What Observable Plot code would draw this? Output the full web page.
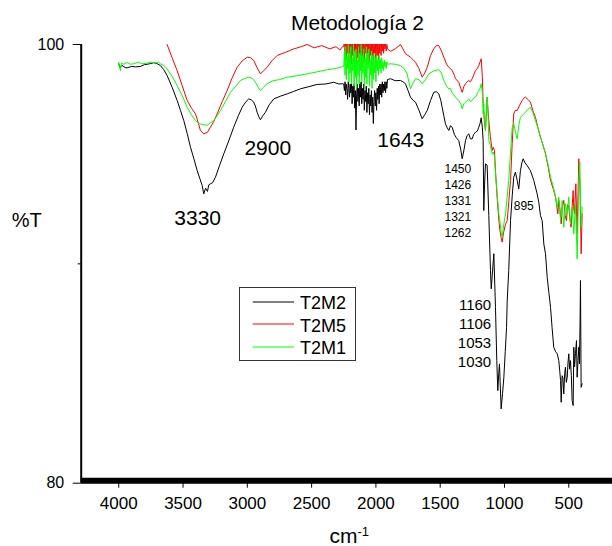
<!DOCTYPE html>
<html><head><meta charset="utf-8">
<script src="https://cdn.jsdelivr.net/npm/d3@7"></script>
<script src="https://cdn.jsdelivr.net/npm/@observablehq/plot@0.6"></script>
<style>
body{margin:0;background:#fff;}
#chart{position:relative;width:612px;height:546px;}
</style></head><body><div id="chart"></div>
<script>
const FONT = "'Liberation Sans', Arial, Helvetica, sans-serif";

const seriesNames = ["T2M2", "T2M5", "T2M1"];
const seriesColors = ["#000000", "#ff0000", "#00ff00"];

// T2M2 (black): [wavenumber cm-1, %T]
const t2m2 = [
[4000,99.12],[3990,98.95],[3975,99.05],[3950,98.95],[3935,98.94],[3900,99.0],[3870,98.98],[3831,99.0],[3800,99.08],[3760,99.12],[3728,99.17],[3700,99.12],[3676,99.04],[3650,98.85],[3624,98.59],[3585,98.05],[3546,97.45],[3520,97.0],[3494,96.53],[3468,95.95],[3442,95.32],[3416,94.8],[3390,94.25],[3370,93.9],[3351,93.57],[3339,93.19],[3325,93.45],[3310,93.3],[3300,93.6],[3287,93.65],[3270,93.7],[3248,93.95],[3215,94.5],[3183,95.02],[3145,95.6],[3106,96.23],[3070,96.75],[3040,97.14],[3010,97.4],[2989,97.52],[2970,97.48],[2950,97.37],[2935,97.15],[2924,96.91],[2910,96.7],[2898,96.57],[2880,96.75],[2859,96.91],[2830,97.25],[2794,97.52],[2740,97.65],[2690,97.75],[2640,97.86],[2587,97.98],[2520,98.08],[2457,98.18],[2390,98.2],[2328,98.28],[2290,98.2],[2262,98.21],
[2250,98.2],[2245,97.9],[2240,98.3],[2235,97.7],[2230,98.2],[2225,98.0],[2220,97.5],[2215,98.3],[2210,98.0],[2205,97.6],[2200,98.2],[2195,97.8],[2190,98.3],[2185,97.3],[2180,98.1],[2175,97.6],[2170,98.2],[2165,97.1],[2160,97.9],[2155,96.1],[2150,97.7],[2145,98.2],[2140,97.4],[2135,98.0],[2130,97.2],[2125,98.2],[2120,97.6],[2115,98.3],[2110,97.3],[2105,98.0],[2100,97.5],[2095,98.2],[2090,97.0],[2085,97.9],[2080,97.4],[2075,98.1],[2070,96.9],[2065,97.8],[2060,97.3],[2055,98.0],[2050,96.8],[2045,97.7],[2040,97.2],[2035,97.9],[2030,96.9],[2025,97.6],[2020,96.4],[2015,97.4],[2010,97.9],[2005,97.2],[2000,97.8],[1995,97.0],[1990,98.0],[1985,97.5],[1980,98.1],[1975,97.3],[1970,98.2],[1965,97.7],[1960,98.2],[1955,97.6],[1950,98.3],[1945,97.8],[1940,98.2],[1935,97.9],[1930,98.3],[1925,97.8],[1920,98.3],[1915,98.0],[1910,98.4],
[1887,98.44],[1850,98.35],[1809,98.36],[1790,98.3],[1770,98.21],[1750,97.9],[1731,97.6],[1710,97.45],[1692,97.37],[1665,97.0],[1640,96.61],[1620,96.8],[1601,96.99],[1575,97.45],[1550,97.82],[1530,97.85],[1511,97.75],[1495,97.45],[1485,97.14],[1470,96.7],[1459,96.38],[1445,96.2],[1433,96.08],[1420,96.3],[1407,96.23],[1390,95.9],[1375,95.75],[1356,95.62],[1340,95.2],[1329,94.79],[1315,95.2],[1303,95.62],[1290,95.85],[1278,95.93],[1265,95.7],[1251,95.7],[1240,95.9],[1226,96.0],[1212,96.05],[1200,96.23],[1190,96.4],[1181,96.66],[1172,96.2],[1166,95.62],[1161,92.43],[1155,93.6],[1148,94.56],[1135,94.5],[1122,92.2],[1109,89.7],[1103,88.86],[1090,89.9],[1083,90.46],[1070,88.0],[1060,85.6],[1052,84.22],[1045,85.0],[1039,85.44],[1032,84.3],[1026,83.39],[1015,84.1],[1005,84.83],[994,86.0],[984,87.11],[979,88.3],[967,89.7],[953,91.97],[940,93.1],[928,93.95],[915,94.18],[901,93.8],[889,93.42],[876,94.25],[865,94.6],[855,94.79],[840,94.6],[824,94.48],[798,94.25],[772,93.8],[746,93.19],[733,92.8],[720,92.2],[707,91.97],[694,90.9],[681,90.46],[668,89.39],[655,88.7],[642,88.02],[630,87.1],[617,86.2],[603,86.0],[590,85.9],[578,85.6],[570,85.1],[564,84.68],[559,83.69],[552,84.9],[546,84.83],[539,84.07],[532,85.0],[526,85.29],[519,84.6],[512,84.83],[506,85.5],[500,85.9],[494,85.2],[487,85.59],[480,84.9],[474,83.77],[466,83.54],[461,86.2],[455,85.3],[448,85.9],[440,86.5],[435,84.83],[428,85.6],[422,86.2],[417,85.44],[412,87.5],[409,89.24],[404,84.37],[396,84.53]
];

// T2M5 (red)
const t2m5 = [
[3690,100.6],[3660,100.3],[3624,100.0],[3585,99.4],[3546,98.81],[3505,98.1],[3468,97.45],[3435,97.1],[3403,96.84],[3380,96.4],[3365,96.08],[3339,95.93],[3310,96.0],[3287,96.23],[3260,96.5],[3235,96.84],[3195,97.4],[3157,97.9],[3120,98.45],[3079,98.96],[3040,99.25],[3001,99.42],[2975,99.4],[2950,99.27],[2925,98.95],[2898,98.66],[2875,98.8],[2846,98.96],[2810,99.25],[2768,99.5],[2700,99.65],[2639,99.8],[2580,99.9],[2535,100.0],[2480,99.85],[2420,99.95],[2360,99.8],[2310,99.9],[2280,99.75],[2260,99.9],
[2250,99.9],[2245,100.5],[2240,99.5],[2235,100.4],[2230,99.3],[2225,100.5],[2220,99.6],[2215,100.3],[2210,99.2],[2205,100.5],[2200,99.4],[2195,100.2],[2190,99.1],[2185,100.5],[2180,99.5],[2175,100.4],[2170,99.2],[2165,100.3],[2160,99.6],[2155,100.5],[2150,99.1],[2145,100.2],[2140,99.4],[2135,100.5],[2130,99.2],[2125,100.3],[2120,99.5],[2115,100.5],[2110,99.1],[2105,100.4],[2100,99.3],[2095,100.5],[2090,99.2],[2085,100.2],[2080,99.6],[2075,100.5],[2070,99.1],[2065,100.3],[2060,99.4],[2055,100.5],[2050,99.2],[2045,100.2],[2040,99.5],[2035,100.4],[2030,99.1],[2025,100.5],[2020,99.3],[2015,100.2],[2010,99.6],[2005,100.4],[2000,99.2],[1995,100.3],[1990,99.5],[1985,100.5],[1980,99.3],[1975,100.2],[1970,99.6],[1965,100.4],[1960,99.5],[1955,100.2],[1950,99.7],[1945,100.3],[1940,99.6],[1935,100.2],[1930,99.8],[1925,100.1],[1920,99.7],[1915,100.0],[1910,99.8],
[1887,99.69],[1850,99.8],[1809,100.0],[1790,99.8],[1770,99.58],[1750,99.5],[1731,99.42],[1710,99.3],[1692,99.19],[1665,98.9],[1640,98.51],[1620,98.7],[1601,98.96],[1575,99.5],[1550,99.8],[1530,99.95],[1511,99.95],[1490,99.7],[1472,99.42],[1450,99.1],[1433,98.96],[1420,98.9],[1407,98.81],[1390,98.6],[1381,98.44],[1356,98.28],[1340,98.0],[1329,97.82],[1315,98.1],[1303,98.21],[1290,98.3],[1278,98.36],[1265,98.3],[1251,98.44],[1240,98.6],[1226,98.81],[1212,98.9],[1200,99.04],[1190,99.2],[1181,99.35],[1172,98.5],[1166,97.3],[1160,96.8],[1155,96.4],[1148,96.08],[1141,96.9],[1135,97.6],[1128,97.0],[1122,96.53],[1110,95.8],[1096,95.17],[1088,95.32],[1078,95.17],[1070,94.25],[1057,93.0],[1044,92.0],[1035,91.5],[1026,91.2],[1018,90.99],[1008,91.4],[992,91.8],[979,91.97],[967,92.8],[953,93.8],[940,95.5],[928,96.84],[915,97.0],[901,96.99],[885,97.2],[862,97.45],[850,97.55],[837,97.6],[818,97.5],[798,97.37],[780,97.0],[759,96.68],[740,96.2],[720,95.77],[700,95.4],[681,95.02],[660,94.4],[642,93.8],[620,93.4],[603,93.04],[585,92.28],[578,92.9],[570,92.58],[559,91.82],[550,92.6],[539,92.89],[528,92.2],[518,91.97],[509,92.7],[500,92.58],[490,92.0],[482,91.67],[474,92.6],[466,93.34],[461,92.5],[456,92.28],[450,93.0],[445,93.65],[440,92.4],[435,91.37],[428,93.2],[422,94.79],[418,94.0],[414,93.8],[409,92.2],[404,90.46],[396,92.28]
];

// T2M1 (green)
const t2m1 = [
[4000,99.19],[3995,99.0],[3987,98.81],[3980,99.15],[3960,99.1],[3935,99.18],[3910,99.1],[3883,99.12],[3850,99.2],[3820,99.12],[3779,99.15],[3750,99.2],[3715,99.15],[3690,99.2],[3676,99.12],[3650,99.05],[3624,98.89],[3585,98.55],[3546,98.13],[3505,97.65],[3468,97.14],[3435,96.8],[3403,96.53],[3380,96.4],[3365,96.38],[3340,96.35],[3313,96.31],[3290,96.42],[3261,96.53],[3235,96.75],[3209,96.99],[3170,97.4],[3131,97.82],[3090,98.1],[3053,98.36],[3020,98.45],[2989,98.51],[2960,98.45],[2937,98.28],[2915,98.05],[2898,97.9],[2875,98.05],[2846,98.21],[2800,98.35],[2750,98.4],[2690,98.51],[2610,98.58],[2535,98.66],[2460,98.75],[2379,98.85],[2320,98.9],[2276,98.96],[2260,99.0],
[2250,99.0],[2245,99.7],[2240,98.6],[2235,99.9],[2230,98.4],[2225,99.5],[2220,98.9],[2215,100.0],[2210,98.3],[2205,99.6],[2200,98.7],[2195,99.9],[2190,98.2],[2185,99.4],[2180,98.8],[2175,100.0],[2170,98.1],[2165,99.7],[2160,98.5],[2155,99.8],[2150,98.0],[2145,99.3],[2140,98.6],[2135,99.9],[2130,98.2],[2125,99.6],[2120,98.8],[2115,100.0],[2110,98.3],[2105,99.5],[2100,98.7],[2095,99.8],[2090,98.0],[2085,99.4],[2080,98.5],[2075,99.9],[2070,98.2],[2065,99.6],[2060,98.9],[2055,99.8],[2050,98.1],[2045,99.3],[2040,98.6],[2035,99.7],[2030,98.0],[2025,99.5],[2020,98.4],[2015,99.6],[2010,98.7],[2005,99.4],[2000,98.3],[1995,99.5],[1990,98.8],[1985,99.3],[1980,98.6],[1975,99.5],[1970,98.9],[1965,99.3],[1960,98.7],[1955,99.4],[1950,98.9],[1945,99.2],[1940,98.8],[1935,99.3],[1930,99.0],[1925,99.2],[1920,98.9],[1915,99.2],[1910,99.1],
[1887,99.12],[1850,99.1],[1809,99.04],[1780,98.9],[1757,98.66],[1740,98.2],[1731,97.98],[1715,98.2],[1692,98.44],[1665,98.4],[1640,98.21],[1615,98.4],[1589,98.66],[1550,98.8],[1511,98.85],[1490,98.7],[1472,98.36],[1450,98.1],[1433,97.98],[1420,98.0],[1407,97.8],[1381,97.6],[1356,97.45],[1340,97.3],[1329,97.07],[1315,97.3],[1303,97.37],[1290,97.45],[1278,97.52],[1265,97.4],[1251,97.45],[1240,97.55],[1226,97.6],[1212,97.75],[1200,97.9],[1190,98.0],[1181,98.21],[1172,97.8],[1166,96.84],[1161,97.3],[1155,96.5],[1148,96.08],[1141,96.9],[1135,97.6],[1128,96.8],[1122,95.62],[1110,95.4],[1096,95.02],[1088,95.1],[1078,94.9],[1070,94.1],[1057,93.2],[1044,92.28],[1035,91.9],[1026,91.44],[1018,91.21],[1010,91.6],[1000,92.0],[992,92.28],[980,93.0],[967,93.8],[953,95.1],[940,96.23],[928,96.4],[915,96.0],[901,95.7],[889,96.3],[876,96.68],[855,96.8],[837,96.91],[818,97.05],[798,97.14],[780,96.9],[759,96.53],[740,96.2],[720,95.77],[700,95.4],[681,95.02],[660,94.5],[642,93.95],[620,93.5],[603,93.04],[590,92.58],[578,93.04],[564,91.97],[551,92.89],[539,91.67],[526,92.74],[512,92.28],[500,93.04],[487,91.82],[474,92.58],[461,91.37],[448,92.74],[435,90.23],[422,93.8],[414,94.63],[404,91.67],[396,92.58]
];

const xTicks = [4000, 3500, 3000, 2500, 2000, 1500, 1000, 500];
const yTicks = [80, 100];
const yMinorTicks = [90];

const peakLabels = ["3330", "2900", "1643"];
const smallGroupLabels = ["1450", "1426", "1331", "1321", "1262"];
const band895Label = "895";
const lowGroupLabels = ["1160", "1106", "1053", "1030"];

const chartTitle = "Metodología 2";
const yTitle = "%T";
const xTitleBase = "cm";
const xTitleSup = "-1";

// ---- layout (positions in data units, wavenumber / %T) ----
const xDomain = [4292, 160];
const yDomain = [80, 100];
const peakLabelAt = [[3386, 91.79], [2841, 94.94], [1807, 95.32]];

const rows = [];
[t2m2, t2m5, t2m1].forEach((arr, i) =>
  arr.forEach(([wn, t]) => rows.push({wn, t, series: seriesNames[i]})));

const peakRows = peakLabels.map((label, i) => ({label, wn: peakLabelAt[i][0], t: peakLabelAt[i][1]}));

const plot = Plot.plot({
  width: 612, height: 546,
  marginLeft: 80.7, marginRight: 0, marginTop: 44, marginBottom: 63.3,
  style: {fontFamily: FONT, fontSize: "17px", background: "white", color: "black"},
  x: {domain: xDomain},
  y: {domain: yDomain},
  color: {domain: seriesNames, range: seriesColors},
  marks: [
    Plot.line(rows, {x: "wn", y: "t", z: "series", stroke: "series", strokeWidth: 1, clip: true}),
    Plot.ruleY([yDomain[0]], {strokeWidth: 6, dy: -2.4}),
    Plot.ruleX([xDomain[0]], {strokeWidth: 2}),
    Plot.axisX({ticks: xTicks, tickSize: 5, tickPadding: 8.5, fontSize: 17, tickFormat: "d", label: null}),
    Plot.axisY({ticks: yTicks, tickSize: 8, tickPadding: 9, fontSize: 16, tickFormat: "d", label: null}),
    Plot.axisY({ticks: yMinorTicks, tickSize: 3, tickFormat: () => "", label: null}),
    Plot.text(peakRows, {x: "wn", y: "t", text: "label", fontSize: 21, lineAnchor: "bottom", textAnchor: "middle"}),
    Plot.text([smallGroupLabels.join("\n")], {x: 1259, y: 94.64, text: d => d, fontSize: 12, lineAnchor: "top", textAnchor: "end", lineHeight: 1.32}),
    Plot.text([band895Label], {x: 928, y: 92.46, text: d => d, fontSize: 12, lineAnchor: "bottom", textAnchor: "start"}),
    Plot.text([lowGroupLabels.join("\n")], {x: 1103.5, y: 88.52, text: d => d, fontSize: 15, lineAnchor: "top", textAnchor: "end", lineHeight: 1.273})
  ]
});

document.getElementById("chart").appendChild(plot);
const svg = d3.select(plot);

svg.append("text").attr("x", 357.5).attr("y", 29.5).attr("text-anchor", "middle")
  .attr("font-family", FONT).attr("font-size", 21).attr("fill", "black").text(chartTitle);
svg.append("text").attr("x", 11.7).attr("y", 227.3).attr("text-anchor", "start")
  .attr("font-family", FONT).attr("font-size", 20).attr("fill", "black").text(yTitle);
const xt = svg.append("text").attr("x", 329.4).attr("y", 543).attr("text-anchor", "start")
  .attr("font-family", FONT).attr("font-size", 21).attr("fill", "black");
xt.append("tspan").text(xTitleBase);
xt.append("tspan").attr("font-size", 13).attr("dy", -7).text(xTitleSup);

// legend
const lg = svg.append("g");
lg.append("rect").attr("x", 239.5).attr("y", 287.5).attr("width", 116).attr("height", 73)
  .attr("fill", "white").attr("stroke", "#333").attr("stroke-width", 1);
const rowY = [302, 324, 347];
const baseY = [309.3, 331.7, 354];
seriesNames.forEach((name, i) => {
  lg.append("line").attr("x1", 252.7).attr("x2", 294).attr("y1", rowY[i]).attr("y2", rowY[i])
    .attr("stroke", seriesColors[i]).attr("stroke-width", 1);
  lg.append("text").attr("x", 300).attr("y", baseY[i]).attr("text-anchor", "start")
    .attr("font-family", FONT).attr("font-size", 18).attr("fill", "black").text(name);
});
</script></body></html>
